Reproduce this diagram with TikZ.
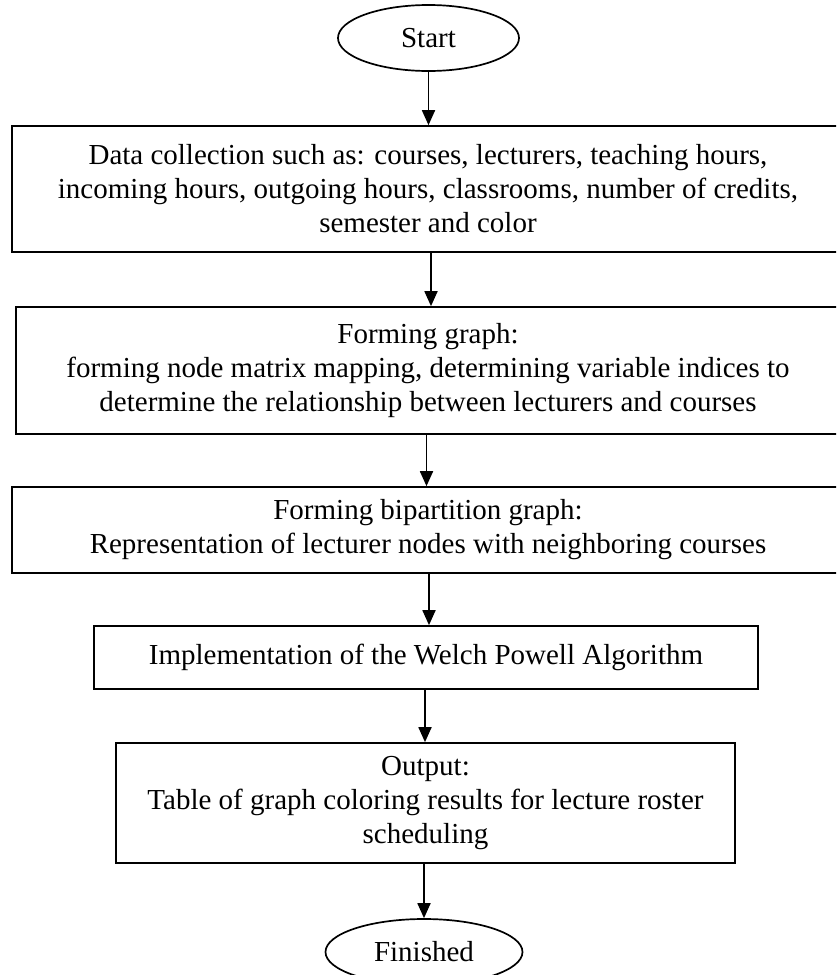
\documentclass[tikz,border=0pt]{standalone}
\usepackage{fontspec}
\setmainfont{Liberation Serif}
\usetikzlibrary{shapes.geometric,arrows.meta}
\begin{document}
\begin{tikzpicture}[x=1pt,y=-1pt,
  txt/.style={font=\fontsize{29}{34}\selectfont},
  box/.style={txt, draw, line width=1.7pt, rectangle, inner sep=0pt, align=center},
  term/.style={txt, draw, line width=1.7pt, ellipse, inner sep=0pt},
  arr/.style={line width=1.8pt, -{Triangle[length=15pt,width=13pt]}}]
\useasboundingbox (0,0) rectangle (836,975);
\fill[white] (0,0) rectangle (836,975);
\clip (0,0) rectangle (836,975);

\node[term, minimum width=181pt, minimum height=66pt] (start) at (428.5,38) {Start};

\node[box, minimum width=832pt, minimum height=126pt] (d1) at (428,189)
  {Data collection such as: courses, lecturers, teaching hours,\\
   incoming hours, outgoing hours, classrooms, number of credits,\\
   semester and color};

\node[box, minimum width=824pt, minimum height=127pt] (d2) at (428,370.5)
  {Forming graph:\\
   forming node matrix mapping, determining variable indices to\\
   determine the relationship between lecturers and courses};

\node[box, minimum width=832pt, minimum height=86pt] (d3) at (428,530)
  {Forming bipartition graph:\\
   Representation of lecturer nodes with neighboring courses};

\node[box, minimum width=664pt, minimum height=63pt] (d4) at (426,657.5)
  {Implementation of the Welch Powell Algorithm};

\node[box, minimum width=619pt, minimum height=120pt] (d5) at (425.5,803)
  {Output:\\
   Table of graph coloring results for lecture roster\\
   scheduling};

\node[term, minimum width=197pt, minimum height=66pt] (fin) at (424,952) {Finished};

\draw[arr] (start.south) -- (start.south |- d1.north);
\draw[arr] ([xshift=3pt]d1.south) -- ([xshift=3pt]d1.south |- d2.north);
\draw[arr] ([xshift=-1.5pt]d2.south) -- ([xshift=-1.5pt]d2.south |- d3.north);
\draw[arr] ([xshift=1pt]d3.south) -- ([xshift=1pt]d3.south |- d4.north);
\draw[arr] ([xshift=-1pt]d4.south) -- ([xshift=-1pt]d4.south |- d5.north);
\draw[arr] ([xshift=-1.5pt]d5.south) -- ([xshift=-1.5pt]d5.south |- fin.north);
\end{tikzpicture}
\end{document}
